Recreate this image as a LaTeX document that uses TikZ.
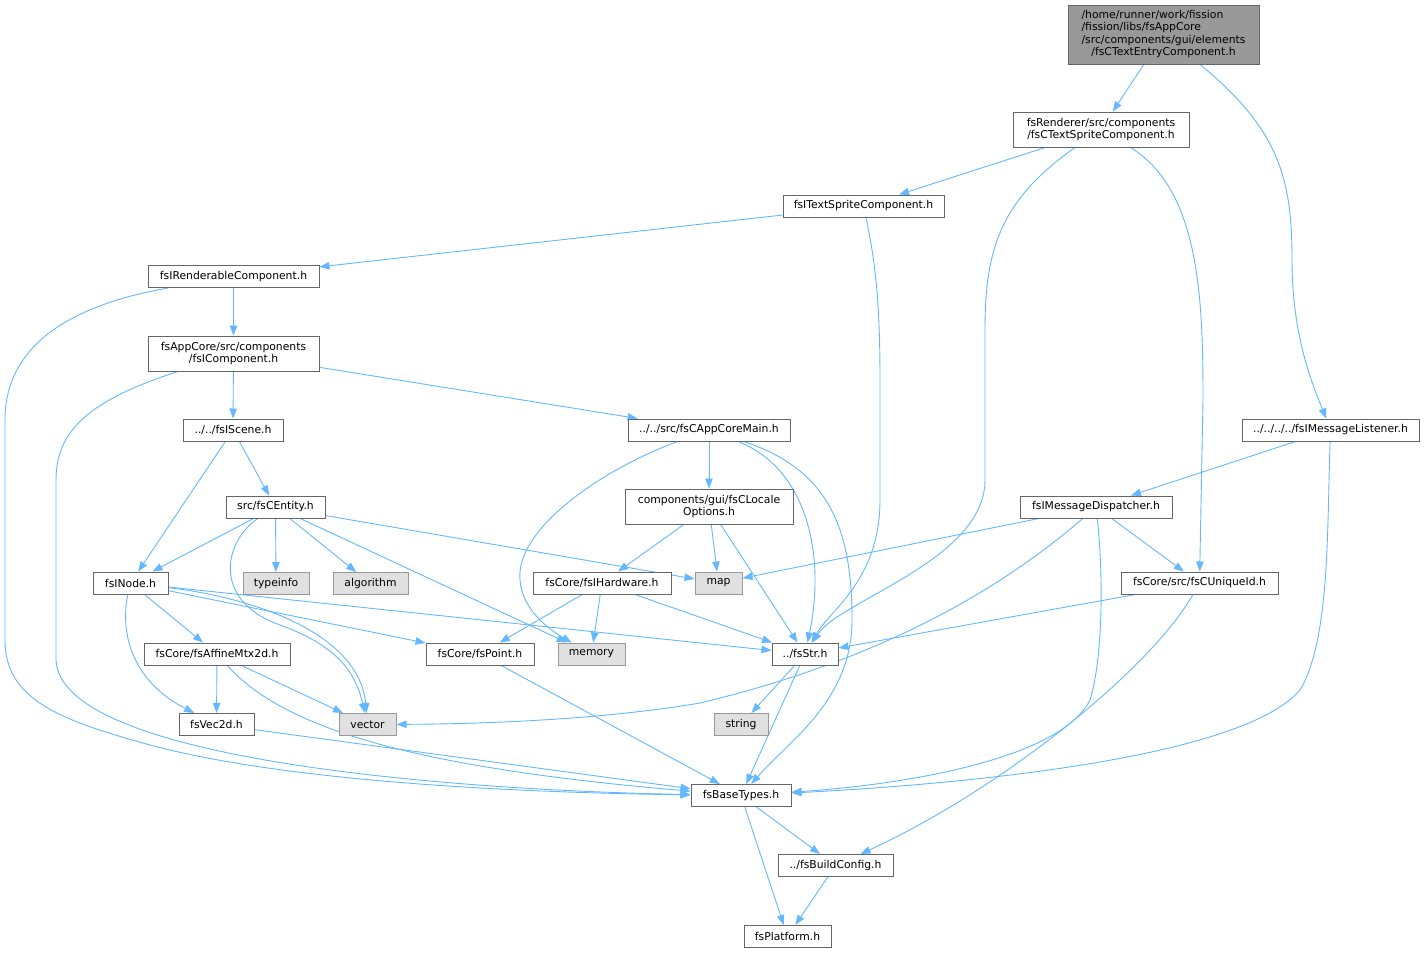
\documentclass[tikz,border=0pt]{standalone}
\usepackage{fontspec}
\setmainfont{DejaVu Sans}
\usetikzlibrary{arrows.meta,backgrounds}
\definecolor{edgeblue}{HTML}{63B8FF}
\definecolor{boxline}{HTML}{666666}
\definecolor{sysline}{HTML}{999999}
\definecolor{sysfill}{HTML}{E0E0E0}
\definecolor{curfill}{HTML}{999999}
\begin{document}
\begin{tikzpicture}[x=1pt,y=-1pt,
  hdr/.style={draw=boxline, fill=white, line width=1pt, font=\fontsize{10.8}{12.4}\selectfont, inner sep=0pt, minimum height=22pt, align=center},
  sys/.style={hdr, draw=sysline, fill=sysfill},
  cur/.style={hdr, fill=curfill},
  dep/.style={draw=edgeblue, line width=0.9pt, -{Triangle[length=10pt,width=7.5pt]}}]
\useasboundingbox (0,0) rectangle (1425,953);

\node[cur, minimum width=191pt, minimum height=59pt] (top) at (1163.5,34.5) {\begin{tabular}{@{}l@{}}/home/runner/work/fission\\/fission/libs/fsAppCore\\/src/components/gui/elements\\\multicolumn{1}{@{}c@{}}{/fsCTextEntryComponent.h}\end{tabular}};
\node[hdr, minimum width=176pt, minimum height=35pt] (ctsc) at (1101,129.5) {fsRenderer/src/components\\/fsCTextSpriteComponent.h};
\node[hdr, minimum width=177pt] (mlist) at (1330.5,430) {../../../../fsIMessageListener.h};
\node[hdr, minimum width=161pt] (itsc) at (863.5,206) {fsITextSpriteComponent.h};
\node[hdr, minimum width=171pt] (irend) at (233.5,276.5) {fsIRenderableComponent.h};
\node[hdr, minimum width=171pt, minimum height=35pt] (icomp) at (233.5,353.5) {fsAppCore/src/components\\/fsIComponent.h};
\node[hdr, minimum width=100pt] (iscene) at (233,430) {../../fsIScene.h};
\node[hdr, minimum width=162pt] (appmain) at (709,430) {../../src/fsCAppCoreMain.h};
\node[hdr, minimum width=168pt, minimum height=35pt] (locale) at (709,506.5) {components/gui/fsCLocale\\Options.h};
\node[hdr, minimum width=152pt] (mdisp) at (1096,507) {fsIMessageDispatcher.h};
\node[hdr, minimum width=99pt] (entity) at (275.5,507) {src/fsCEntity.h};
\node[sys, minimum width=66pt] (typeinfo) at (276,583.5) {typeinfo};
\node[sys, minimum width=75pt] (algorithm) at (370.5,583.5) {algorithm};
\node[sys, minimum width=47pt] (map) at (718.5,583) {map};
\node[hdr, minimum width=138pt] (ihw) at (602,583) {fsCore/fsIHardware.h};
\node[hdr, minimum width=157pt] (uid) at (1199.5,583) {fsCore/src/fsCUniqueId.h};
\node[hdr, minimum width=75pt] (inode) at (130.5,583) {fsINode.h};
\node[hdr, minimum width=146pt] (affine) at (217,654) {fsCore/fsAffineMtx2d.h};
\node[hdr, minimum width=108pt] (point) at (480,654) {fsCore/fsPoint.h};
\node[sys, minimum width=67pt] (memory) at (591.5,654) {memory};
\node[hdr, minimum width=66pt] (str) at (805,654) {../fsStr.h};
\node[sys, minimum width=57pt] (vector) at (367.5,724.5) {vector};
\node[sys, minimum width=54pt] (string) at (741,724.5) {string};
\node[hdr, minimum width=75pt] (vec2d) at (216.5,724.5) {fsVec2d.h};
\node[hdr, minimum width=100pt] (base) at (741,795.5) {fsBaseTypes.h};
\node[hdr, minimum width=115pt] (build) at (835.5,865.5) {../fsBuildConfig.h};
\node[hdr, minimum width=87pt] (platform) at (787.5,936.5) {fsPlatform.h};

\begin{pgfonlayer}{background}
% top
\draw[dep] (top) -- (ctsc);
\draw[dep] (top) .. controls (1280,130) and (1292,180) .. (1292,260) .. controls (1292,340) and (1315,390) .. (mlist);
% ctsc
\draw[dep] (ctsc) -- (itsc);
\draw[dep] (ctsc) .. controls (1000,200) and (985,250) .. (985,330) -- (985,480) .. controls (985,560) and (840,600) .. (str);
\draw[dep] (ctsc) .. controls (1200,190) and (1203,300) .. (1203,400) -- (uid);
% itsc
\draw[dep] (itsc) -- (irend);
\draw[dep] (itsc) .. controls (875,260) and (880,300) .. (880,380) -- (880,500) .. controls (880,580) and (830,610) .. (str);
% irend
\draw[dep] (irend) -- (icomp);
\draw[dep] (irend) .. controls (100,300) and (5,330) .. (5,420) -- (5,640) .. controls (5,700) and (60,720) .. (150,745) .. controls (300,785) and (550,793) .. (base);
% icomp
\draw[dep] (icomp) -- (iscene);
\draw[dep] (icomp) -- (appmain);
\draw[dep] (icomp) .. controls (90,400) and (56,430) .. (56,480) -- (56,660) .. controls (60,760) and (450,790) .. (base);
% iscene
\draw[dep] (iscene) -- (entity);
\draw[dep] (iscene) -- (inode);
% appmain
\draw[dep] (appmain) -- (locale);
\draw[dep] (appmain) .. controls (600,470) and (515,530) .. (520,580) .. controls (522,610) and (550,630) .. (memory);
\draw[dep] (appmain) .. controls (810,470) and (825,560) .. (str);
\draw[dep] (appmain) .. controls (830,470) and (852,530) .. (852,620) .. controls (852,700) and (790,740) .. (base);
% locale
\draw[dep] (locale) -- (ihw);
\draw[dep] (locale) -- (map);
\draw[dep] (locale) -- (str);
% mlist
\draw[dep] (mlist) -- (mdisp);
\draw[dep] (mlist) .. controls (1327,530) and (1330,640) .. (1300,690) .. controls (1240,760) and (950,785) .. (base);
% mdisp
\draw[dep] (mdisp) -- (map);
\draw[dep] (mdisp) -- (uid);
\draw[dep] (mdisp) .. controls (1000,590) and (880,660) .. (700,703) .. controls (600,720) and (480,724) .. (vector);
\draw[dep] (mdisp) .. controls (1102,560) and (1105,650) .. (1090,700) .. controls (1060,760) and (900,785) .. (base);
% entity
\draw[dep] (entity) -- (inode);
\draw[dep] (entity) -- (typeinfo);
\draw[dep] (entity) -- (algorithm);
\draw[dep] (entity) -- (memory);
\draw[dep] (entity) -- (map);
\draw[dep] (entity) .. controls (225,540) and (210,600) .. (280,625) .. controls (335,645) and (355,670) .. (vector);
% inode
\draw[dep] (inode) -- (affine);
\draw[dep] (inode) -- (point);
\draw[dep] (inode) -- (str);
\draw[dep] (inode) .. controls (270,600) and (360,640) .. (vector);
\draw[dep] (inode) .. controls (120,630) and (130,680) .. (vec2d);
% ihw
\draw[dep] (ihw) -- (point);
\draw[dep] (ihw) -- (memory);
\draw[dep] (ihw) -- (str);
% uid
\draw[dep] (uid) -- (str);
\draw[dep] (uid) .. controls (1150,670) and (1000,790) .. (build);
% affine
\draw[dep] (affine) -- (vec2d);
\draw[dep] (affine) -- (vector);
\draw[dep] (affine) .. controls (285,730) and (420,768) .. (base);
% others
\draw[dep] (point) -- (base);
\draw[dep] (vec2d) -- (base);
\draw[dep] (str) -- (string);
\draw[dep] (str) -- (base);
\draw[dep] (base) -- (build);
\draw[dep] (base) -- (platform);
\draw[dep] (build) -- (platform);
\end{pgfonlayer}
\end{tikzpicture}
\end{document}
